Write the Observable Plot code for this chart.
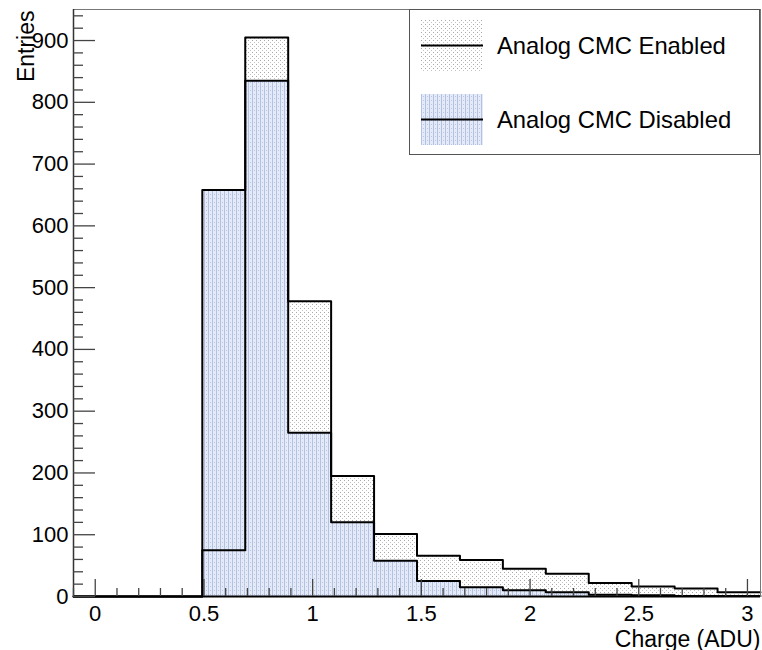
<!DOCTYPE html>
<html>
<head>
<meta charset="utf-8">
<script src="https://cdn.jsdelivr.net/npm/d3@7"></script>
<script src="https://cdn.jsdelivr.net/npm/@observablehq/plot@0.6"></script>
<style>
  html, body { margin: 0; padding: 0; background: #fff; }
  #wrap { position: relative; width: 762px; height: 650px; font-family: "Liberation Sans", Arial, Helvetica, sans-serif; }
  #defs { position: absolute; width: 0; height: 0; overflow: hidden; }
  #legend { position: absolute; left: 409px; top: 9px; width: 351px; height: 146px; border: 1px solid #555; background: #fff; box-sizing: border-box; }
  .row { position: absolute; left: 11px; height: 51px; display: flex; align-items: center; }
  .row svg { display: block; }
  .row span { margin-left: 14px; font-size: 23.8px; color: #000; white-space: nowrap; }
</style>
</head>
<body>
<div id="wrap">
  <svg id="defs" width="0" height="0">
    <defs>
      <pattern id="patEnabled" width="4" height="4" patternUnits="userSpaceOnUse">
        <rect x="0" y="0" width="1" height="1" fill="#a8a8a8"></rect>
        <rect x="2" y="2" width="1" height="1" fill="#c4c4c4"></rect>
      </pattern>
      <pattern id="patDisabled" width="4" height="4" patternUnits="userSpaceOnUse">
        <rect x="0" y="0" width="4" height="4" fill="#e2e9f6" fill-opacity="0.9"></rect>
        <rect x="0" y="0" width="1" height="4" fill="#b2c1e4"></rect>
        <rect x="2" y="2" width="1" height="1" fill="#b9c6e6"></rect>
      </pattern>
    </defs>
  </svg>
  <div id="chart"></div>
  <div id="legend"></div>
</div>
<script>
// ---- data ----
const binEdges = [-0.1, 0.0975, 0.295, 0.4925, 0.69, 0.8875, 1.085, 1.2825, 1.48, 1.6775, 1.875, 2.0725, 2.27, 2.4675, 2.665, 2.8625, 3.06];
const enabledCounts  = [0, 0, 0, 75, 905, 478, 195, 101, 66, 59, 45, 37, 22, 16, 13, 7];
const disabledCounts = [0, 0, 0, 658, 835, 265, 120, 58, 25, 15, 10, 7, 3, 2, 1, 1];
const seriesNames = ["Analog CMC Enabled", "Analog CMC Disabled"];
const xMajorTicks = [0, 0.5, 1, 1.5, 2, 2.5, 3];
const yMajorTicks = [0, 100, 200, 300, 400, 500, 600, 700, 800, 900];
const xTitle = "Charge (ADU)";
const yTitle = "Entries";

// ---- derived tables ----
const toBins = counts => counts.map((c, i) => ({x1: binEdges[i], x2: binEdges[i + 1], y: c}));
const toStairs = counts => {
  const pts = [{x: binEdges[0], y: 0}];
  counts.forEach((c, i) => { pts.push({x: binEdges[i], y: c}); pts.push({x: binEdges[i + 1], y: c}); });
  return pts;
};
const enabledBins = toBins(enabledCounts);
const disabledBins = toBins(disabledCounts);
const xMinor = d3.range(-1, 31).map(i => Math.round(i) / 10).filter(v => !xMajorTicks.includes(v));
const yMinor = d3.range(0, 950, 20).filter(v => !yMajorTicks.includes(v));

const W = 762, H = 650, mL = 73, mR = 2, mT = 9, mB = 54;
const fw = W - mL - mR, fh = H - mT - mB;
const yMax = d3.max(enabledCounts) * 1.05;

const chart = Plot.plot({
  width: W, height: H,
  marginLeft: mL, marginRight: mR, marginTop: mT, marginBottom: mB,
  style: {fontFamily: "'Liberation Sans', Arial, Helvetica, sans-serif", fontSize: "22px", color: "#000", background: "#fff"},
  x: {domain: [binEdges[0], binEdges[binEdges.length - 1]]},
  y: {domain: [0, yMax]},
  marks: [
    Plot.rect(enabledBins, {x1: "x1", x2: "x2", y1: 0, y2: "y", fill: "url(#patEnabled)"}),
    Plot.rect(disabledBins, {x1: "x1", x2: "x2", y1: 0, y2: "y", fill: "url(#patDisabled)"}),
    Plot.line(toStairs(enabledCounts), {x: "x", y: "y", stroke: "#000", strokeWidth: 2}),
    Plot.line(toStairs(disabledCounts), {x: "x", y: "y", stroke: "#000", strokeWidth: 2}),
    Plot.frame({stroke: "#777", strokeWidth: 1}),
    Plot.ruleX([binEdges[0]], {stroke: "#333", strokeWidth: 1.5}),
    Plot.ruleY([0], {stroke: "#000", strokeWidth: 2}),
    // ticks (inward, ROOT style)
    Plot.tickY(yMajorTicks, {y: d => d, insetRight: fw - 22, stroke: "#444", strokeWidth: 1.3}),
    Plot.tickY(yMinor, {y: d => d, insetRight: fw - 10, stroke: "#444", strokeWidth: 1.3}),
    Plot.tickX(xMajorTicks, {x: d => d, insetTop: fh - 17, stroke: "#444", strokeWidth: 1.3}),
    Plot.tickX(xMinor, {x: d => d, insetTop: fh - 8, stroke: "#444", strokeWidth: 1.3}),
    Plot.axisY({ticks: yMajorTicks, tickSize: 0, tickPadding: 5, label: null, fontSize: 22}),
    Plot.axisX({ticks: xMajorTicks, tickSize: 0, tickPadding: 9, label: null, fontSize: 22, tickFormat: d => `${d}`}),
    Plot.text([xTitle], {text: d => d, frameAnchor: "bottom-right", textAnchor: "end", lineAnchor: "bottom", dy: 50, fontSize: 23}),
    Plot.text([yTitle], {text: d => d, frameAnchor: "top-left", textAnchor: "end", lineAnchor: "bottom", rotate: -90, dx: -40, dy: 1, fontSize: 23})
  ]
});
document.getElementById("chart").appendChild(chart);

// ---- legend ----
const legend = d3.select("#legend");
const fills = ["url(#patEnabled)", "url(#patDisabled)"];
const tops = [10, 84];
seriesNames.forEach((name, i) => {
  const row = legend.append("div").attr("class", "row").style("top", tops[i] + "px");
  const s = row.append("svg").attr("width", 62).attr("height", 51);
  s.append("rect").attr("width", 62).attr("height", 51).attr("fill", fills[i]);
  s.append("line").attr("x1", 0).attr("x2", 62).attr("y1", 25.5).attr("y2", 25.5).attr("stroke", "#000").attr("stroke-width", 2);
  row.append("span").text(name);
});
</script>
</body>
</html>
